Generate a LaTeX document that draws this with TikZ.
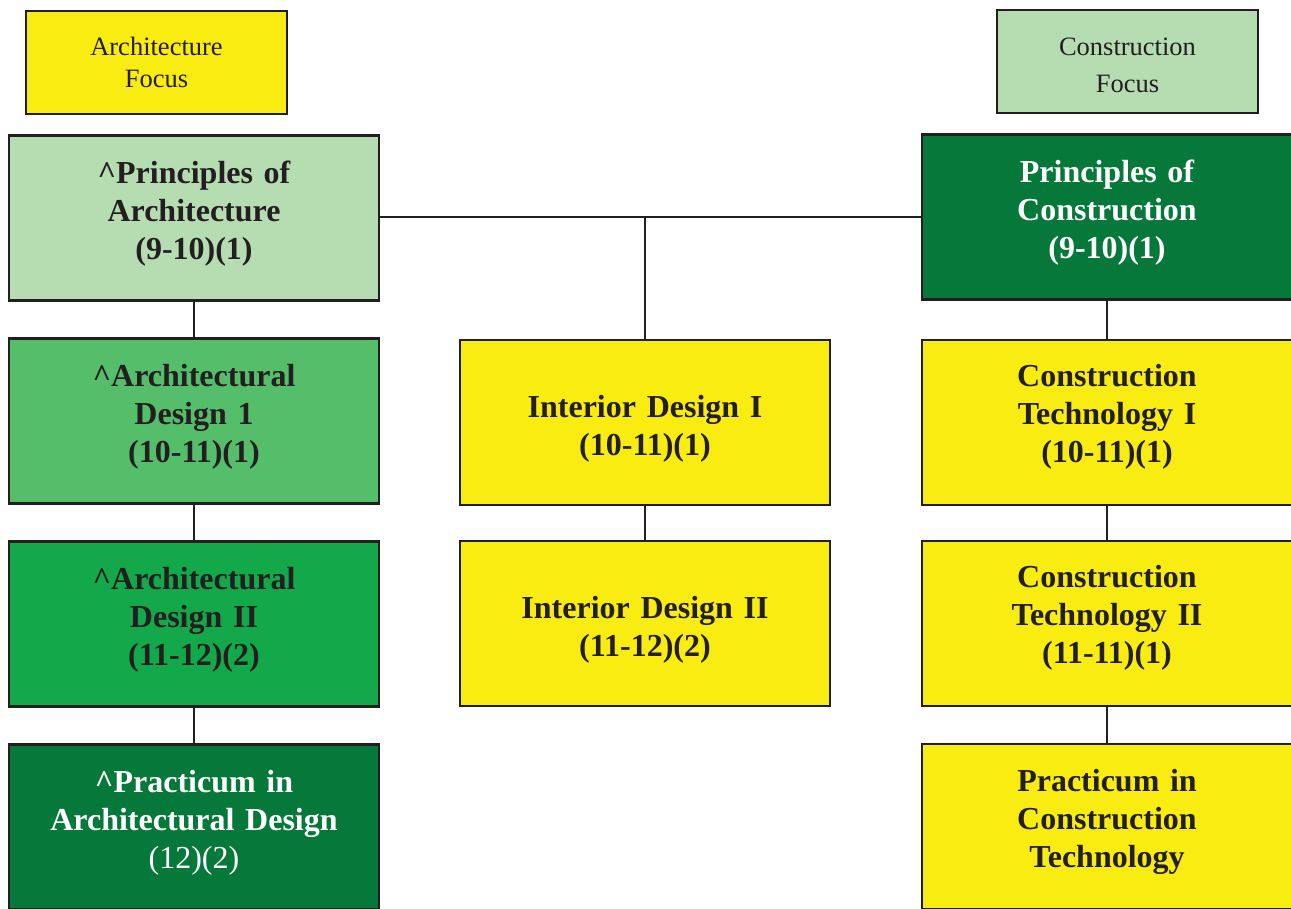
\documentclass[tikz,border=0pt]{standalone}
\usepackage{fontspec}
\setmainfont{Liberation Serif}
\usetikzlibrary{positioning}
\definecolor{cyellow}{HTML}{F9EC10}
\definecolor{clight}{HTML}{B5DDB1}
\definecolor{cmid}{HTML}{55BE6A}
\definecolor{cgreen}{HTML}{13A84A}
\definecolor{cdark}{HTML}{06793A}
\definecolor{cline}{HTML}{231F20}

\begin{document}
\begin{tikzpicture}[x=1pt, y=-1pt, node distance =203pt, on grid,
course/.style={draw=cline, line width=2.5pt, minimum width=370pt,
minimum height=165pt, text width=360pt, align=center, inner sep=0pt,
font=\bfseries\fontsize{32}{38}\selectfont, text=cline},
focus/.style={draw=cline, line width=2.5pt, minimum width=261pt,
minimum height=103pt, text width=250pt, align=center, inner sep=0pt, text=cline},
lift/.style={execute at end node={\rule[-#1]{0pt}{#1}}},
drop/.style={execute at begin node={\rule{0pt}{#1}}},
link/.style={draw=cline, line width=2pt}]
\useasboundingbox (0,0) rectangle (1291,909);
% focus headers
\node [focus, fill=cyellow, font=\fontsize{26.5}{32}\selectfont] (af) at (156.5,62.5) {Architecture\\Focus};
\node [focus, fill=clight, font=\fontsize{26.5}{37}\selectfont, drop=26pt] (cf) at (1127.5,61.5) {Construction\\Focus};
% architecture column
\node [course, fill=clight, lift=16pt] (arch_0) at (194,218) {\textasciicircum Principles of\\Architecture\\(9-10)(1)};
\node [course, fill=cmid, lift=16pt] (arch_1) [below = of arch_0] {\textasciicircum Architectural\\Design 1\\(10-11)(1)};
\node [course, fill=cgreen, lift=16pt] (arch_2) [below = of arch_1] {\textasciicircum Architectural\\Design II\\(11-12)(2)};
\node [course, fill=cdark, text=white, lift=16pt] (arch_3) [below = of arch_2] {\textasciicircum Practicum in\\Architectural Design\\{\mdseries(12)(2)}};
% interior column
\node [course, fill=cyellow, drop=34pt] (int_1) at (645,422.5) {Interior Design I\\(10-11)(1)};
\node [course, fill=cyellow, drop=34pt] (int_2) [below = 201pt of int_1] {Interior Design II\\(11-12)(2)};
% construction column
\node [course, fill=cdark, text=white, lift=16pt] (con_0) at (1107,217) {Principles of\\Construction\\(9-10)(1)};
\node [course, fill=cyellow, lift=18pt] (con_1) [below = 205.5pt of con_0] {Construction\\Technology I\\(10-11)(1)};
\node [course, fill=cyellow, lift=18pt] (con_2) [below = 201pt of con_1] {Construction\\Technology II\\(11-11)(1)};
\node [course, fill=cyellow, lift=16pt] (con_3) [below = of con_2] {Practicum in\\Construction\\Technology};
\coordinate (jn) at (int_1.north |- con_0.west);
\path [link]
(arch_0) edge (arch_1)
(arch_1) edge (arch_2)
(arch_2) edge (arch_3)
(int_1) edge (int_2)
(con_0) edge (con_1)
(con_1) edge (con_2)
(con_2) edge (con_3)
(con_0.west) edge (con_0.west -| arch_0.east)
(int_1) edge (jn);
\end{tikzpicture}
\end{document}
